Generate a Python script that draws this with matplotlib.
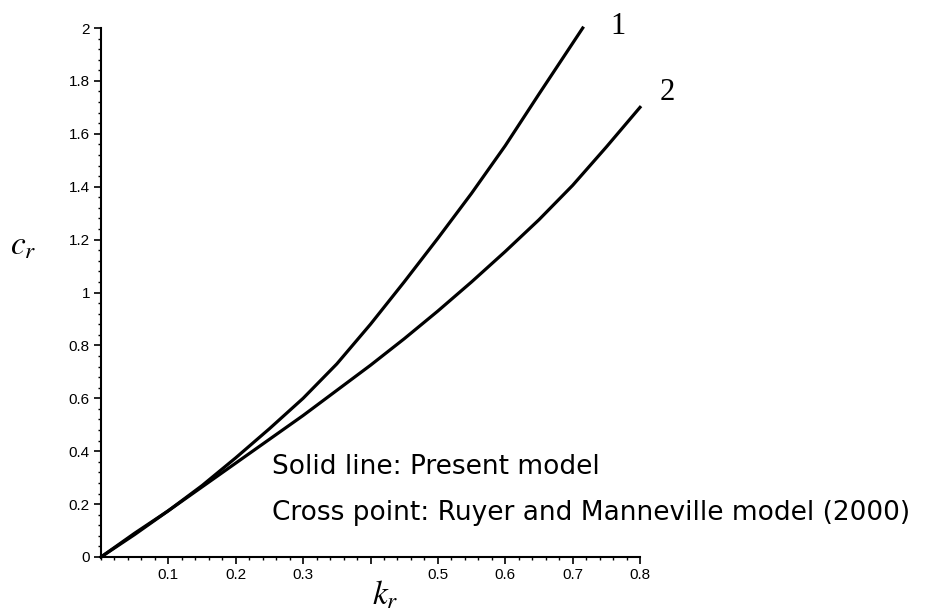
import matplotlib.pyplot as plt
from matplotlib.ticker import MultipleLocator

# curve 1 (present model) and curve 2
kr_1 = [0, 0.05, 0.1, 0.15, 0.2, 0.25, 0.3, 0.35, 0.4, 0.45, 0.5, 0.55, 0.6, 0.65, 0.715]
cr_1 = [0, 0.09, 0.175, 0.27, 0.375, 0.485, 0.60, 0.73, 0.88, 1.04, 1.205, 1.375, 1.555, 1.75, 2.0]

kr_2 = [0, 0.05, 0.1, 0.15, 0.2, 0.25, 0.3, 0.35, 0.4, 0.45, 0.5, 0.55, 0.6, 0.65, 0.7, 0.75, 0.8]
cr_2 = [0, 0.085, 0.175, 0.265, 0.355, 0.445, 0.535, 0.63, 0.725, 0.825, 0.93, 1.04, 1.155,
        1.275, 1.405, 1.55, 1.70]

x_ticks = [0.1, 0.2, 0.3, 0.4, 0.5, 0.6, 0.7, 0.8]
x_labels = ['0.1', '0.2', '0.3', '', '0.5', '0.6', '0.7', '0.8']
y_ticks = [0, 0.2, 0.4, 0.6, 0.8, 1.0, 1.2, 1.4, 1.6, 1.8, 2.0]
y_labels = ['0', '0.2', '0.4', '0.6', '0.8', '1', '1.2', '1.4', '1.6', '1.8', '2']

plt.rcParams['mathtext.fontset'] = 'stix'

W, H = 949, 615
fig = plt.figure(figsize=(W / 100, H / 100), dpi=100)
ax = fig.add_axes([101 / W, 58 / H, 539 / W, 529 / H])

ax.plot(kr_1, cr_1, color='black', lw=2.3, clip_on=False)
ax.plot(kr_2, cr_2, color='black', lw=2.3, clip_on=False)

ax.set_xlim(0, 0.8)
ax.set_ylim(0, 2)

for s in ['top', 'right']:
    ax.spines[s].set_visible(False)
for s in ['left', 'bottom']:
    ax.spines[s].set_linewidth(1.5)

ax.set_xticks(x_ticks)
ax.set_xticklabels(x_labels, fontfamily='Liberation Sans', fontsize=11)
ax.set_yticks(y_ticks)
ax.set_yticklabels(y_labels, fontfamily='Liberation Sans', fontsize=11)
ax.xaxis.set_minor_locator(MultipleLocator(0.02))
ax.yaxis.set_minor_locator(MultipleLocator(0.04))
ax.tick_params(which='major', direction='out', length=5, width=1.2, pad=3)
ax.tick_params(which='minor', direction='out', length=2.5, width=1.0)

# curve numbers
ax.text(0.767, 2.005, '1', fontfamily='Liberation Serif', fontsize=22,
        ha='center', va='center')
ax.text(0.84, 1.755, '2', fontfamily='Liberation Serif', fontsize=22,
        ha='center', va='center')

# axis labels
fig.text(385 / W, 1 - 595 / H, r'$k_r$', fontsize=24, ha='center', va='center')
fig.text(23 / W, 1 - 245 / H, r'$c_r$', fontsize=24, ha='center', va='center')

fig.text(272 / W, 1 - 467 / H, 'Solid line: Present model', fontfamily='DejaVu Sans',
         fontsize=19, ha='left', va='center')
fig.text(272 / W, 1 - 513 / H, 'Cross point: Ruyer and Manneville model (2000)',
         fontfamily='DejaVu Sans', fontsize=19, ha='left', va='center')

fig.savefig('out.png', dpi=100)
